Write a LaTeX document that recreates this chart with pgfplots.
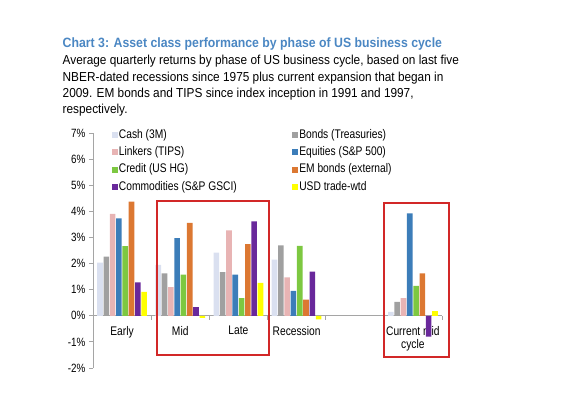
\documentclass[border=0pt]{standalone}
\usepackage{pgfplots}
\pgfplotsset{compat=1.18}
\usepackage{pgfplotstable}
\usepackage{fontspec}
\setmainfont{Liberation Sans}[FakeStretch=0.82]
\newfontfamily\headfont{Liberation Sans}[FakeStretch=0.91]
\definecolor{cCash}{RGB}{218,224,240}
\definecolor{cBonds}{RGB}{160,160,160}
\definecolor{cLink}{RGB}{232,180,180}
\definecolor{cEq}{RGB}{60,125,185}
\definecolor{cCred}{RGB}{125,200,65}
\definecolor{cEM}{RGB}{220,120,50}
\definecolor{cCom}{RGB}{105,40,155}
\definecolor{cUSD}{RGB}{255,255,0}
\definecolor{cTitle}{RGB}{75,135,195}
\definecolor{cAxis}{RGB}{165,165,165}
\definecolor{cBox}{RGB}{210,40,40}
\pgfplotstableread{
x Cash Bonds Link Eq Cred EM Com USD
0 2.04 2.27 3.90 3.73 2.67 4.37 1.28 0.92
1 1.95 1.62 1.10 2.97 1.58 3.56 0.33 -0.08
2 2.42 1.67 3.27 1.58 0.68 2.74 3.62 1.26
3 2.15 2.70 1.47 0.95 2.68 0.62 1.69 -0.14
5 0.15 0.53 0.68 3.92 1.15 1.62 -0.80 0.18
}\datatable
\pgfplotsset{sq/.style={legend image code/.code={\path[##1,draw=none] (0pt,-3pt) rectangle (6pt,3pt);}}}
\begin{document}
\begin{tikzpicture}
\useasboundingbox (0,0) rectangle (568pt,-394pt);
\node[anchor=base west, inner sep=0pt, font=\headfont\fontsize{13.5}{16}\selectfont\bfseries, text=cTitle] at (62.5pt,-47.5pt) {Chart 3: Asset class performance by phase of US business cycle};
\begin{scope}[every node/.style={anchor=base west, inner sep=0pt, font=\headfont\fontsize{13}{15}\selectfont}]
\node at (62.5pt,-64.3pt) {Average quarterly returns by phase of US business cycle, based on last five};
\node at (62.5pt,-81pt) {NBER-dated recessions since 1975 plus current expansion that began in};
\node at (62.5pt,-97.3pt) {2009. EM bonds and TIPS since index inception in 1991 and 1997,};
\node at (62.5pt,-113.6pt) {respectively.};
\end{scope}
\begin{axis}[
  at={(93pt,-368pt)}, anchor=south west,
  scale only axis, width=349pt, height=235pt,
  xmin=-0.5, xmax=5.5, ymin=-2, ymax=7,
  ybar=0.7pt, bar width=5.6pt,
  axis y line*=left, axis x line*=middle,
  axis line style={cAxis, line width=0.8pt},
  tick style={cAxis, line width=0.8pt},
  tick align=outside, major tick length=4pt,
  hide obscured x ticks=false,
  xtick={0,1,2,3,5},
  xticklabels={Early,Mid,Late,Recession,{Current mid\\cycle}},
  xtick style={draw=none},
  extra x ticks={0.5,1.5,2.5,3.5,4.5,5.5},
  extra x tick labels={},
  extra x tick style={xtick style={draw=cAxis, line width=0.8pt}, xtick align=outside},
  xticklabel style={align=center, font=\fontsize{12.5}{13}\selectfont, text=black, yshift=-3pt},
  ytick={-2,-1,0,1,2,3,4,5,6,7},
  yticklabel={\pgfmathprintnumber{\tick}\%},
  /pgf/number format/assume math mode=true,
  yticklabel style={font=\fontsize{12}{13}\selectfont, text=black},
  legend columns=2,
  legend cell align=left,
  legend style={draw=none, fill=none, at={(0.045,1.03)}, anchor=north west,
    font=\fontsize{12.5}{14}\selectfont, column sep=0pt, row sep=3.3pt,
    nodes={inner sep=1pt, text height=9pt, text depth=3pt},
    /tikz/column 2/.style={column sep=54.5pt}},
]
\addplot[sq, fill=cCash, draw=none] table[x=x,y=Cash]{\datatable};
\addlegendentry{Cash (3M)}
\addplot[sq, fill=cBonds, draw=none] table[x=x,y=Bonds]{\datatable};
\addlegendentry{Bonds (Treasuries)}
\addplot[sq, fill=cLink, draw=none] table[x=x,y=Link]{\datatable};
\addlegendentry{Linkers (TIPS)}
\addplot[sq, fill=cEq, draw=none] table[x=x,y=Eq]{\datatable};
\addlegendentry{Equities (S\&P 500)}
\addplot[sq, fill=cCred, draw=none] table[x=x,y=Cred]{\datatable};
\addlegendentry{Credit (US HG)}
\addplot[sq, fill=cEM, draw=none] table[x=x,y=EM]{\datatable};
\addlegendentry{EM bonds (external)}
\addplot[sq, fill=cCom, draw=none] table[x=x,y=Com]{\datatable};
\addlegendentry{Commodities (S\&P GSCI)}
\addplot[sq, fill=cUSD, draw=none] table[x=x,y=USD]{\datatable};
\addlegendentry{USD trade-wtd}
\end{axis}
\draw[cBox, line width=1.5pt] (157pt,-201pt) rectangle (269pt,-355pt);
\draw[cBox, line width=1.5pt] (384pt,-203pt) rectangle (449pt,-357pt);
\end{tikzpicture}
\end{document}
